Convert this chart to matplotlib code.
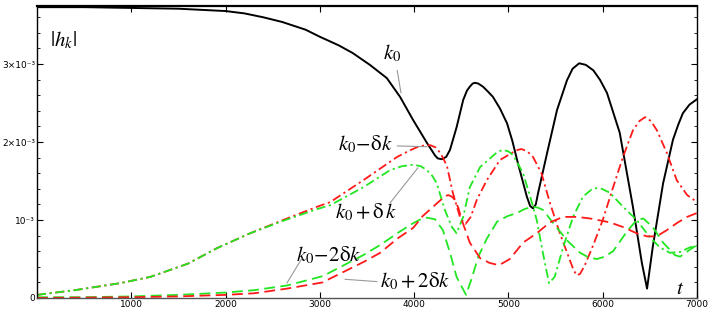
import matplotlib
matplotlib.use("Agg")
import matplotlib.pyplot as plt
from matplotlib.ticker import MultipleLocator

plt.rcParams['mathtext.fontset'] = 'stix'

# |h_k| in units of 1e-3
t_k0 = [0, 500, 1000, 1500, 2000, 2200, 2400, 2600, 2850, 3000, 3200, 3350, 3530, 3710, 3850,
        3990, 4135, 4220, 4250, 4295, 4340, 4380, 4450, 4520, 4560, 4590, 4620, 4645, 4680,
        4730, 4780, 4835, 4910, 4985, 5040, 5100, 5195, 5230, 5260, 5290, 5315, 5410, 5515,
        5620, 5680, 5750, 5820, 5900, 5970, 6045, 6180, 6320, 6415, 6470, 6530, 6640, 6745,
        6800, 6850, 6920, 7000]
h_k0 = [3.73, 3.73, 3.72, 3.71, 3.68, 3.65, 3.60, 3.54, 3.44, 3.35, 3.24, 3.14, 2.99, 2.82, 2.58,
        2.28, 1.99, 1.83, 1.79, 1.78, 1.81, 1.90, 2.19, 2.54, 2.66, 2.71, 2.75, 2.76, 2.75,
        2.71, 2.65, 2.58, 2.43, 2.24, 2.02, 1.73, 1.30, 1.18, 1.15, 1.20, 1.35, 1.86, 2.41,
        2.79, 2.94, 3.01, 2.99, 2.92, 2.80, 2.63, 2.12, 1.17, 0.45, 0.12, 0.65, 1.47, 2.03,
        2.22, 2.37, 2.48, 2.55]

t_m1 = [0, 400, 880, 1200, 1600, 1910, 2260, 2610, 2970, 3110, 3460, 3820, 3950, 4060, 4170,
        4230, 4270, 4310, 4350, 4410, 4490, 4545, 4600, 4665, 4770, 4910, 5050, 5100, 5140,
        5200, 5260, 5350, 5440, 5545, 5650, 5690, 5725, 5760, 5810, 5900, 6000, 6110, 6215,
        6320, 6390, 6450, 6510, 6575, 6680, 6785, 6895, 7000]
h_m1 = [0.04, 0.10, 0.19, 0.27, 0.44, 0.64, 0.83, 1.00, 1.17, 1.23, 1.51, 1.81, 1.89, 1.95, 1.96,
        1.93, 1.87, 1.79, 1.68, 1.35, 1.02, 0.95, 1.04, 1.26, 1.51, 1.77, 1.87, 1.90, 1.91,
        1.88, 1.81, 1.60, 1.22, 0.83, 0.49, 0.36, 0.29, 0.31, 0.42, 0.68, 1.00, 1.42, 1.81,
        2.15, 2.27, 2.32, 2.27, 2.15, 1.86, 1.51, 1.32, 1.23]

t_p1 = [0, 400, 880, 1200, 1600, 1910, 2260, 2610, 2970, 3110, 3460, 3745, 3870, 3990, 4070,
        4135, 4190, 4240, 4325, 4400, 4450, 4520, 4590, 4700, 4880, 4940, 5000, 5050, 5155,
        5230, 5300, 5365, 5430, 5490, 5580, 5685, 5790, 5880, 5940, 5990, 6075, 6215, 6360,
        6500, 6605, 6710, 6820, 6925, 7000]
h_p1 = [0.04, 0.10, 0.19, 0.27, 0.44, 0.64, 0.83, 0.99, 1.14, 1.19, 1.42, 1.64, 1.69, 1.71, 1.69,
        1.64, 1.57, 1.47, 1.13, 0.91, 0.83, 1.04, 1.42, 1.68, 1.87, 1.90, 1.88, 1.83, 1.60,
        1.30, 1.00, 0.58, 0.19, 0.27, 0.65, 1.04, 1.30, 1.39, 1.41, 1.40, 1.35, 1.17, 1.00,
        0.78, 0.65, 0.58, 0.59, 0.65, 0.67]

t_m2 = [0, 500, 1000, 1500, 2000, 2300, 2650, 3030, 3110, 3460, 3640, 3820, 3990, 4070, 4135,
        4220, 4305, 4380, 4450, 4550, 4610, 4680, 4770, 4880, 4990, 5090, 5170, 5250, 5310,
        5365, 5475, 5620, 5760, 5850, 5940, 6020, 6110, 6255, 6360, 6430, 6530, 6640, 6765,
        6820, 6925, 7000]
h_m2 = [0.01, 0.01, 0.02, 0.04, 0.07, 0.10, 0.16, 0.28, 0.33, 0.55, 0.68, 0.83, 0.96, 1.01, 1.03,
        1.01, 0.87, 0.58, 0.27, 0.04, 0.25, 0.53, 0.76, 0.98, 1.05, 1.09, 1.14, 1.17, 1.16,
        1.13, 0.96, 0.74, 0.58, 0.52, 0.50, 0.53, 0.60, 0.85, 1.00, 1.02, 0.91, 0.71, 0.55,
        0.53, 0.62, 0.68]

t_p2 = [0, 1000, 1500, 2000, 2300, 2650, 3030, 3110, 3460, 3640, 3820, 3990, 4090, 4275, 4320,
        4360, 4400, 4430, 4470, 4505, 4590, 4700, 4800, 4900, 5015, 5155, 5300, 5440, 5580,
        5725, 5865, 6075, 6215, 6360, 6470, 6570, 6680, 6785, 6895, 7000]
h_p2 = [0.00, 0.01, 0.02, 0.04, 0.06, 0.12, 0.20, 0.25, 0.46, 0.58, 0.76, 0.90, 1.05, 1.25, 1.30,
        1.32, 1.30, 1.26, 1.15, 1.00, 0.71, 0.51, 0.45, 0.42, 0.50, 0.71, 0.83, 0.97, 1.04,
        1.04, 1.02, 0.97, 0.91, 0.83, 0.79, 0.79, 0.87, 0.96, 1.04, 1.09]

y_ticks = [0, 1, 2, 3]
y_labels = ['0', '10⁻³', '2×10⁻³', '3×10⁻³']

red = '#ff1a1a'
green = '#22e622'

fig = plt.figure(figsize=(7.08, 3.15), dpi=100)
ax = fig.add_axes([0.0523, 0.054, 0.9322, 0.927])

ax.plot(t_k0, h_k0, color='black', lw=1.4)
ax.plot(t_m1, h_m1, color=red, lw=1.3, dashes=(5, 2, 1.2, 2))
ax.plot(t_p1, h_p1, color=green, lw=1.3, dashes=(5, 2, 1.2, 2))
ax.plot(t_m2, h_m2, color=green, lw=1.3, dashes=(6, 3))
ax.plot(t_p2, h_p2, color=red, lw=1.3, dashes=(6, 3))

ax.set_xlim(0, 7000)
ax.set_ylim(0, 3.745)
ax.set_xticks(range(1000, 7001, 1000))
ax.set_yticks(y_ticks)
ax.set_yticklabels(y_labels)
ax.yaxis.set_minor_locator(MultipleLocator(0.2))
ax.tick_params(which='both', direction='in', top=True, right=True, labelsize=6.5, pad=1.5)
ax.tick_params(which='major', length=4, width=0.8)
ax.tick_params(which='minor', length=2.5, width=0.6)
for s in ax.spines.values():
    s.set_linewidth(1.0)
ax.spines['top'].set_linewidth(1.6)
ax.spines['bottom'].set_color('#555555')

lead = dict(arrowstyle='-', color='#999999', lw=0.8, shrinkA=0, shrinkB=0)
fs = 15
ax.text(275, 3.31, r'$|h_k|$', fontsize=fs, ha='center', va='center')
ax.text(6820, 0.13, r'$t$', fontsize=fs, ha='center', va='center')

ax.text(3765, 3.14, r'$k_0$', fontsize=fs, ha='center', va='center')
ax.annotate('', xy=(3860, 2.63), xytext=(3820, 2.92), arrowprops=lead)

ax.text(3480, 1.97, r'$k_0\!-\!\mathrm{\delta} k$', fontsize=fs, ha='center', va='center')
ax.annotate('', xy=(4135, 1.94), xytext=(3820, 1.95), arrowprops=lead)

ax.text(3490, 1.10, r'$k_0 + \mathrm{\delta}\, k$', fontsize=fs, ha='center', va='center')
ax.annotate('', xy=(4040, 1.67), xytext=(3745, 1.22), arrowprops=lead)

ax.text(3095, 0.55, r'$k_0\!-\!2\mathrm{\delta} k$', fontsize=fs, ha='center', va='center')
ax.annotate('', xy=(2650, 0.19), xytext=(2810, 0.51), arrowprops=lead)

ax.text(4010, 0.21, r'$k_0 + 2\mathrm{\delta} k$', fontsize=fs, ha='center', va='center')
ax.annotate('', xy=(3265, 0.24), xytext=(3605, 0.21), arrowprops=lead)

fig.savefig('out.png', dpi=100)
